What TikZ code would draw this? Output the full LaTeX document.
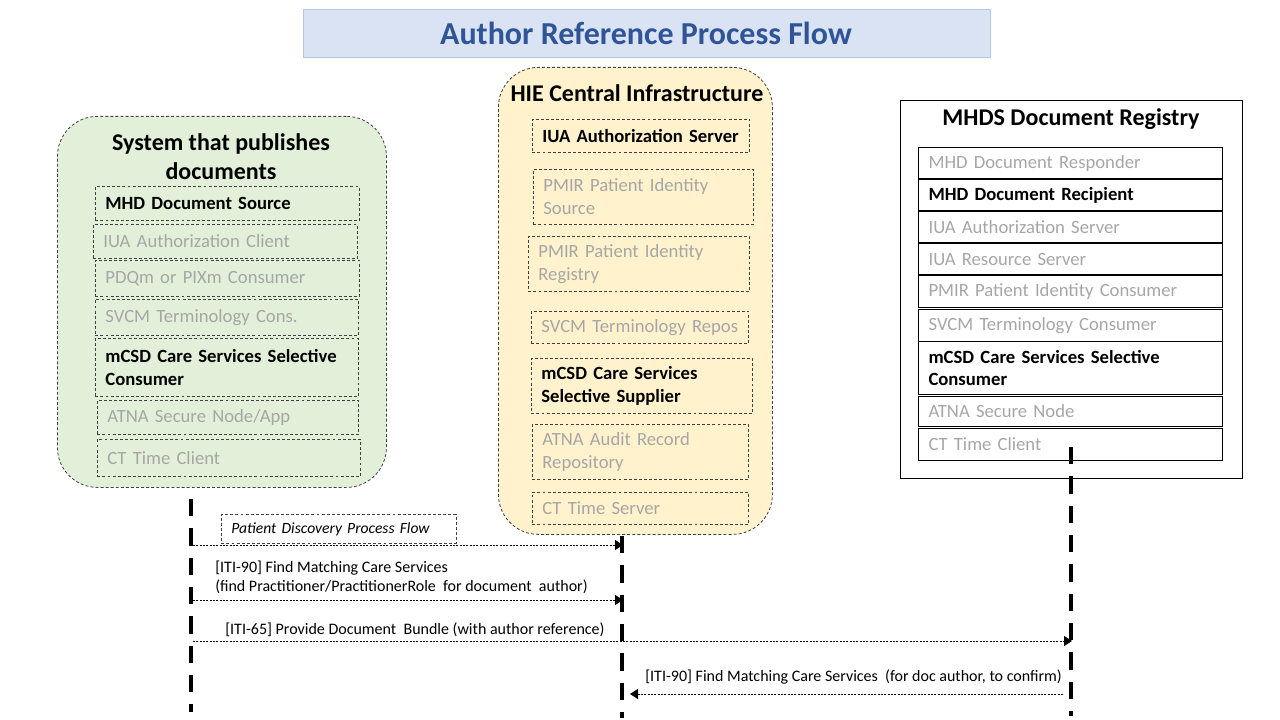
\documentclass[tikz,border=0pt]{standalone}
\usepackage{fontspec}
\setmainfont{Carlito}
\usetikzlibrary{arrows.meta}
\definecolor{tfill}{HTML}{DAE3F3}
\definecolor{tdraw}{HTML}{B4C7E7}
\definecolor{tblue}{HTML}{2F5597}
\definecolor{gfill}{HTML}{E2F0D9}
\definecolor{yfill}{HTML}{FFF2CC}
\definecolor{tgray}{HTML}{A6A6A6}
\definecolor{bgray}{HTML}{404040}
\begin{document}
\begin{tikzpicture}[x=0.75pt,y=-0.75pt,
  obox/.style={draw=bgray, line width=0.6pt, dash pattern=on 2.2pt off 1.6pt, anchor=north west, inner sep=0pt, rounded corners=30pt},
  dbox/.style={draw=bgray, line width=0.6pt, dash pattern=on 2.2pt off 1.6pt, anchor=north west, inner xsep=7.5pt, inner ysep=0pt, align=left},
  sbox/.style={draw=black, line width=0.8pt, anchor=north west, inner xsep=7.5pt, inner ysep=0pt, align=left},
  btx/.style={font=\fontsize{14}{17}\selectfont\bfseries, text=black},
  gtx/.style={font=\fontsize{14}{17}\selectfont, text=tgray},
  hdr/.style={font=\fontsize{18}{21.6}\selectfont\bfseries, align=center, inner sep=0pt},
  lbl/.style={font=\fontsize{12}{14.25}\selectfont, align=left, inner sep=0pt, anchor=west},
  lifeline/.style={line width=3pt, dash pattern=on 13pt off 9pt},
  msg/.style={line width=0.75pt, dash pattern=on 1.5pt off 1pt, -{Triangle[length=6pt,width=7.5pt]}}
]
\useasboundingbox (0,0) rectangle (1280,720);

% title
\node[draw=tdraw, fill=tfill, line width=0.75pt, anchor=north west, minimum width=515.25pt, minimum height=36pt, inner sep=0pt] (titlebox) at (303,9) {};
\node[font=\fontsize{24}{28}\selectfont\bfseries, text=tblue, inner sep=0pt] (title) at (646,33) {Author Reference Process Flow};

% outer containers
\node[obox, fill=gfill, minimum width=246.75pt, minimum height=278.25pt] (left) at (57,116) {};
\node[obox, fill=yfill, minimum width=205.5pt, minimum height=350.25pt] (mid) at (498,67) {};
\node[draw=black, line width=0.75pt, anchor=north west, inner sep=0pt, minimum width=256.5pt, minimum height=283.5pt] (right) at (900,100) {};

\node[hdr] (lefthdr) at (221,157) {System that publishes\\documents};
\node[hdr] (midhdr) at (637,93) {HIE Central Infrastructure};
\node[hdr] (righthdr) at (1071,119) {MHDS Document Registry};

% left actors
\node[dbox, btx, text width=183pt, minimum height=25.5pt] (ls1) at (95,186) {MHD Document Source};
\node[dbox, gtx, text width=183pt, minimum height=25.5pt] (ls2) at (93,224) {IUA Authorization Client};
\node[dbox, gtx, text width=183pt, minimum height=27pt] (ls3) at (95,260) {PDQm or PIXm Consumer};
\node[dbox, gtx, text width=182pt, minimum height=27pt] (ls4) at (95,299) {SVCM Terminology Cons.};
\node[dbox, btx, text width=182pt, minimum height=43.5pt] (ls5) at (95,338) {mCSD Care Services Selective\\Consumer};
\node[dbox, gtx, text width=181pt, minimum height=25.5pt] (ls6) at (97,400) {ATNA Secure Node/App};
\node[dbox, gtx, text width=182pt, minimum height=27.75pt] (ls7) at (97,439) {CT Time Client};

% middle actors
\node[dbox, btx, text width=148pt, minimum height=24.75pt] (m1) at (532,119) {IUA Authorization Server};
\node[dbox, gtx, text width=150pt, minimum height=41.25pt] (m2) at (533,169) {PMIR Patient Identity\\Source};
\node[dbox, gtx, text width=151pt, minimum height=41.25pt] (m3) at (528,236) {PMIR Patient Identity\\Registry};
\node[dbox, gtx, text width=148pt, minimum height=24pt] (m4) at (531,311) {SVCM Terminology Repos};
\node[dbox, btx, text width=151pt, minimum height=41.25pt] (m5) at (531,358) {mCSD Care Services\\Selective Supplier};
\node[dbox, gtx, text width=147pt, minimum height=41.25pt] (m6) at (532,424) {ATNA Audit Record\\Repository};
\node[dbox, gtx, text width=147pt, minimum height=24pt] (m7) at (532,492) {CT Time Server};

% right actors
\node[sbox, gtx, text width=213pt, minimum height=23.25pt] (r1) at (918,147) {MHD Document Responder};
\node[sbox, btx, text width=213pt, minimum height=23.25pt] (r2) at (918,179) {MHD Document Recipient};
\node[sbox, gtx, text width=213pt, minimum height=23.25pt] (r3) at (918,211) {IUA Authorization Server};
\node[sbox, gtx, text width=213pt, minimum height=23.25pt] (r4) at (918,243) {IUA Resource Server};
\node[sbox, gtx, text width=213pt, minimum height=24pt] (r5) at (918,275) {PMIR Patient Identity Consumer};
\node[sbox, gtx, text width=213pt, minimum height=24pt] (r6) at (918,309) {SVCM Terminology Consumer};
\node[sbox, btx, text width=213pt, minimum height=39.75pt] (r7) at (918,341) {mCSD Care Services Selective\\Consumer};
\node[sbox, gtx, text width=213pt, minimum height=22.5pt] (r8) at (918,396) {ATNA Secure Node};
\node[sbox, gtx, text width=213pt, minimum height=24pt] (r9) at (918,428) {CT Time Client};

% lifelines
\coordinate (LA) at (191,499);
\coordinate (LB) at (191,712);
\coordinate (MA) at (622,536);
\coordinate (MB) at (622,718);
\coordinate (RA) at (1071,447);
\coordinate (RB) at (1071,716);
\draw[lifeline] (LA) -- (LB);
\draw[lifeline] (MA) -- (MB);
\draw[lifeline] (RA) -- (RB);

% messages
\coordinate (a1s) at (193,545);
\coordinate (a1e) at (623,545);
\coordinate (a2s) at (193,600);
\coordinate (a2e) at (623,600);
\coordinate (a3s) at (193,641);
\coordinate (a3e) at (1072,641);
\coordinate (a4s) at (1063,694);
\coordinate (a4e) at (630,694);
\draw[msg] (a1s) -- (a1e);
\draw[msg] (a2s) -- (a2e);
\draw[msg] (a3s) -- (a3e);
\draw[msg] (a4s) -- (a4e);

\node[dbox, font=\fontsize{11.7}{14}\selectfont\itshape, text width=161pt, minimum height=21.75pt] (t1) at (221,514) {Patient Discovery Process Flow};
\node[lbl] (t2) at (215,577.5) {[ITI-90] Find Matching Care Services\\(find Practitioner/PractitionerRole \ for document \ author)};
\node[lbl] (t3) at (225,630) {[ITI-65] Provide Document \ Bundle (with author reference)};
\node[lbl] (t4) at (645,677) {[ITI-90] Find Matching Care Services \ (for doc author, to confirm)};
\end{tikzpicture}
\end{document}
